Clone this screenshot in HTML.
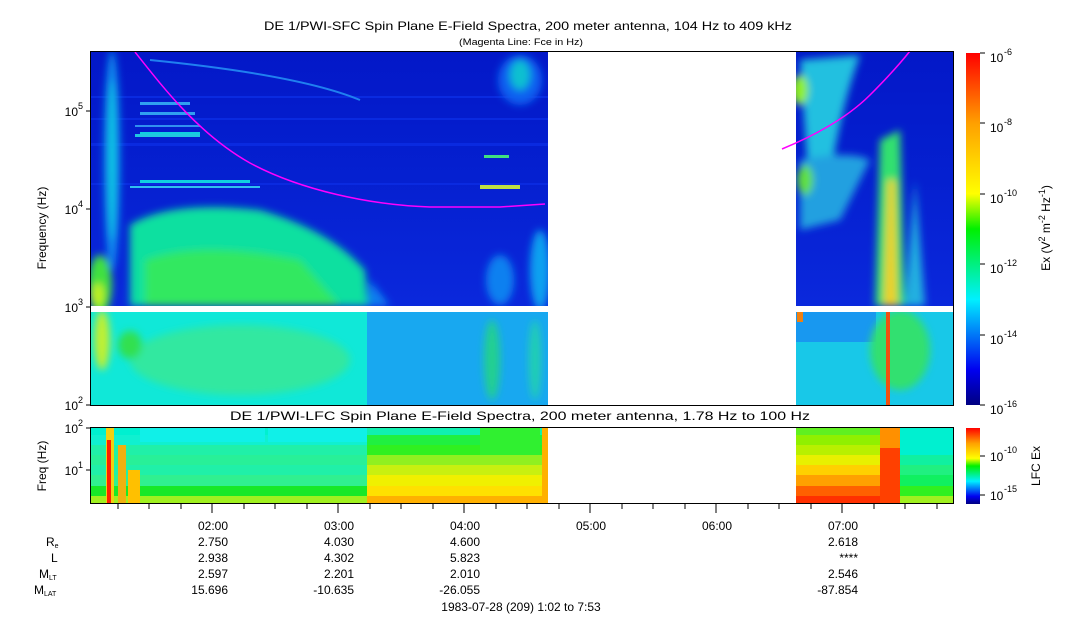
<!DOCTYPE html>
<html><head><meta charset="utf-8"><style>
body{margin:0;background:#fff;}
svg text{font-family:"Liberation Sans",sans-serif;fill:#000;}
</style></head><body>
<svg width="1083" height="620" viewBox="0 0 1083 620" xmlns="http://www.w3.org/2000/svg">
<defs>
<filter id="b4" x="-20%" y="-20%" width="140%" height="140%"><feGaussianBlur stdDeviation="4"/></filter>
<clipPath id="cU"><rect x="90" y="51" width="458" height="255"/></clipPath>
<clipPath id="cL"><rect x="90" y="312" width="458" height="93"/></clipPath>
<clipPath id="cRU"><rect x="796" y="51" width="157" height="255"/></clipPath>
<clipPath id="cRL"><rect x="796" y="312" width="157" height="93"/></clipPath>
<linearGradient id="cb" x1="0" y1="1" x2="0" y2="0">
<stop offset="0" stop-color="#000080"/><stop offset="0.1" stop-color="#0000f0"/><stop offset="0.3" stop-color="#00f0ff"/><stop offset="0.4" stop-color="#00f080"/><stop offset="0.5" stop-color="#00f000"/><stop offset="0.6" stop-color="#ffff00"/><stop offset="0.8" stop-color="#ffa000"/><stop offset="1" stop-color="#ff0000"/>
</linearGradient>
<linearGradient id="bg" x1="0" y1="0" x2="0" y2="1">
<stop offset="0" stop-color="#0318c8"/><stop offset="0.5" stop-color="#0520d0"/><stop offset="1" stop-color="#0a28dc"/>
</linearGradient>
</defs>

<text x="264" y="30" font-size="12" textLength="528" lengthAdjust="spacingAndGlyphs">DE 1/PWI-SFC  Spin Plane E-Field Spectra, 200 meter antenna, 104 Hz to 409 kHz</text>
<text x="459" y="45" font-size="9" textLength="124" lengthAdjust="spacingAndGlyphs">(Magenta Line: Fce in Hz)</text>
<text x="230" y="420" font-size="12" textLength="580" lengthAdjust="spacingAndGlyphs">DE 1/PWI-LFC  Spin Plane E-Field Spectra, 200 meter antenna, 1.78 Hz to 100 Hz</text>

<!-- LEFT UPPER -->
<g clip-path="url(#cU)">
<rect x="90" y="51" width="458" height="255" fill="url(#bg)"/>
<g fill="#0a2ae0"><rect x="90" y="96" width="458" height="2"/><rect x="90" y="118" width="458" height="2"/><rect x="90" y="143" width="458" height="3"/><rect x="90" y="183" width="458" height="2"/></g>
<g filter="url(#b4)">
<path d="M130 306 L130 225 Q170 200 260 210 Q330 230 365 270 L368 306 Z" fill="#10e0a0"/>
<path d="M145 306 L145 260 Q200 240 300 260 L340 306 Z" fill="#30e860"/>
<path d="M368 306 L370 280 L390 306 Z" fill="#1080f0"/>
<ellipse cx="100" cy="285" rx="12" ry="30" fill="#40e040"/>
<ellipse cx="98" cy="295" rx="6" ry="12" fill="#c0f020"/>
<ellipse cx="112" cy="160" rx="8" ry="110" fill="#1090f0"/>
<ellipse cx="112" cy="160" rx="4" ry="80" fill="#10c8e0"/>
<ellipse cx="500" cy="280" rx="14" ry="25" fill="#1080f0"/>
<ellipse cx="540" cy="270" rx="10" ry="40" fill="#10a0f0"/>
<ellipse cx="520" cy="80" rx="22" ry="25" fill="#1060f0"/>
<ellipse cx="520" cy="75" rx="10" ry="15" fill="#10c0d0"/>
</g>
<g fill="#10d0e0">
<rect x="140" y="180" width="110" height="3"/><rect x="130" y="186" width="130" height="2" fill="#30c0f0"/>
<rect x="140" y="132" width="60" height="3"/><rect x="140" y="112" width="55" height="3" fill="#30a0f0"/>
<rect x="140" y="102" width="50" height="3" fill="#30a0f0"/>
<rect x="135" y="125" width="65" height="2" fill="#3090f0"/>
<rect x="135" y="134" width="65" height="3" fill="#20c8e0"/>
<rect x="480" y="185" width="40" height="4" fill="#c0e040"/>
<rect x="484" y="155" width="25" height="3" fill="#40e080"/>
</g>
<path d="M150 60 Q300 75 360 100" stroke="#2080f0" stroke-width="2" fill="none"/>
</g>

<!-- LEFT LOWER -->
<g clip-path="url(#cL)">
<rect x="90" y="312" width="458" height="93" fill="#10e8d8"/>
<rect x="367" y="312" width="181" height="93" fill="#18a8f0"/>
<g filter="url(#b4)">
<ellipse cx="240" cy="360" rx="110" ry="35" fill="#30e8a0"/>
<ellipse cx="102" cy="340" rx="8" ry="30" fill="#c0f030"/>
<ellipse cx="130" cy="345" rx="12" ry="14" fill="#30e050"/>
<ellipse cx="492" cy="360" rx="8" ry="40" fill="#20d090"/>
<ellipse cx="535" cy="360" rx="6" ry="40" fill="#20d0b0"/>
</g>
</g>

<!-- RIGHT UPPER -->
<g clip-path="url(#cRU)">
<rect x="796" y="51" width="157" height="255" fill="url(#bg)"/>
<g filter="url(#b4)">
<path d="M800 60 L860 55 Q840 110 830 180 L810 200 Z" fill="#20c0e0"/>
<path d="M800 160 Q850 150 870 160 L840 220 L800 230 Z" fill="#20a0e0"/>
<path d="M875 306 L880 140 L900 130 L905 306 Z" fill="#30e070"/>
<path d="M884 306 L888 180 L895 180 L897 306 Z" fill="#f0d020"/>
<path d="M905 306 L915 180 L925 306 Z" fill="#20b0e0"/>
<ellipse cx="800" cy="90" rx="8" ry="15" fill="#90f020"/>
<ellipse cx="805" cy="180" rx="8" ry="15" fill="#60e040"/>
</g>
</g>
<g clip-path="url(#cRL)">
<rect x="796" y="312" width="157" height="93" fill="#18c8e8"/>
<rect x="796" y="312" width="80" height="30" fill="#1898f0"/>
<g filter="url(#b4)">
<ellipse cx="900" cy="350" rx="30" ry="40" fill="#30e070"/>
</g>
<rect x="886" y="312" width="4" height="93" fill="#f05010"/>
<rect x="797" y="312" width="6" height="10" fill="#f08010"/>
</g>

<path d="M135 52 C165 90 200 135 250 163 C300 190 370 205 430 207 L500 207 L545 204" stroke="#ff00ff" stroke-width="1.5" fill="none"/>
<path d="M782 149 Q840 125 870 95 Q895 70 910 51" stroke="#ff00ff" stroke-width="1.5" fill="none"/>

<rect x="90" y="306" width="864" height="6" fill="#fff"/>
<rect x="90.5" y="51.5" width="863" height="354" fill="none" stroke="#000" stroke-width="1"/>

<g stroke="#000" stroke-width="1">
<line x1="86" y1="405" x2="90" y2="405"/><line x1="86" y1="307" x2="90" y2="307"/><line x1="86" y1="209" x2="90" y2="209"/><line x1="86" y1="111" x2="90" y2="111"/>
</g>
<g font-size="12" text-anchor="end">
<text x="78" y="410">10</text><text x="78" y="312">10</text><text x="78" y="214">10</text><text x="78" y="116">10</text>
</g>
<g font-size="9"><text x="78" y="403">2</text><text x="78" y="305">3</text><text x="78" y="207">4</text><text x="78" y="109">5</text></g>
<text transform="translate(46,228) rotate(-90)" font-size="12" text-anchor="middle">Frequency (Hz)</text>

<rect x="966" y="53" width="14" height="352" fill="url(#cb)"/>
<g stroke="#000"><line x1="980" y1="53" x2="985" y2="53"/><line x1="980" y1="123" x2="985" y2="123"/><line x1="980" y1="194" x2="985" y2="194"/><line x1="980" y1="264" x2="985" y2="264"/><line x1="980" y1="335" x2="985" y2="335"/><line x1="980" y1="405" x2="985" y2="405"/></g>
<g font-size="12"><text x="990" y="62">10</text><text x="990" y="132">10</text><text x="990" y="203">10</text><text x="990" y="273">10</text><text x="990" y="344">10</text><text x="990" y="414">10</text></g>
<g font-size="9"><text x="1004" y="55">-6</text><text x="1004" y="125">-8</text><text x="1004" y="196">-10</text><text x="1004" y="266">-12</text><text x="1004" y="337">-14</text><text x="1004" y="407">-16</text></g>
<text transform="translate(1050,228) rotate(-90)" font-size="12" text-anchor="middle">Ex (V<tspan font-size="9" dy="-5">2</tspan><tspan dy="5"> m</tspan><tspan font-size="9" dy="-5">-2</tspan><tspan dy="5"> Hz</tspan><tspan font-size="9" dy="-5">-1</tspan><tspan dy="5">)</tspan></text>

<!-- LOWER PANEL -->
<g>
<rect x="90" y="428" width="277" height="7" fill="#00f0d0"/>
<rect x="90" y="435" width="277" height="10" fill="#10f0d0"/>
<rect x="90" y="445" width="277" height="10" fill="#20f0a8"/>
<rect x="90" y="455" width="277" height="10" fill="#28f098"/>
<rect x="90" y="465" width="277" height="10" fill="#20f0a8"/>
<rect x="90" y="475" width="277" height="11" fill="#30f090"/>
<rect x="90" y="486" width="277" height="10" fill="#18e828"/>
<rect x="90" y="496" width="277" height="8" fill="#a0f020"/>
<rect x="140" y="428" width="125" height="14" fill="#10f0e8"/>
<rect x="268" y="428" width="100" height="14" fill="#10f0e8"/>
<rect x="106" y="428" width="8" height="76" fill="#f0d010"/>
<rect x="107" y="440" width="4" height="64" fill="#ff2000"/>
<rect x="118" y="445" width="8" height="59" fill="#f0b010"/>
<rect x="128" y="470" width="12" height="34" fill="#ffc000"/>
<rect x="367" y="428" width="181" height="7" fill="#10f0b0"/>
<rect x="367" y="435" width="181" height="10" fill="#20f040"/>
<rect x="367" y="445" width="181" height="10" fill="#30f020"/>
<rect x="367" y="455" width="181" height="10" fill="#90f020"/>
<rect x="367" y="465" width="181" height="10" fill="#c8f010"/>
<rect x="367" y="475" width="181" height="11" fill="#f0f000"/>
<rect x="367" y="486" width="181" height="10" fill="#ffe000"/>
<rect x="367" y="496" width="181" height="8" fill="#ffb000"/>
<rect x="480" y="428" width="60" height="27" fill="#30f030"/>
<rect x="542" y="428" width="6" height="76" fill="#ffb000"/>
<rect x="796" y="428" width="84" height="7" fill="#60f020"/>
<rect x="796" y="435" width="84" height="10" fill="#90f000"/>
<rect x="796" y="445" width="84" height="10" fill="#b8f000"/>
<rect x="796" y="455" width="84" height="10" fill="#e8f000"/>
<rect x="796" y="465" width="84" height="10" fill="#ffd000"/>
<rect x="796" y="475" width="84" height="11" fill="#ffa000"/>
<rect x="796" y="486" width="84" height="10" fill="#ff6000"/>
<rect x="796" y="496" width="84" height="8" fill="#ff3000"/>
<rect x="880" y="428" width="20" height="76" fill="#ff4000"/>
<rect x="880" y="428" width="20" height="20" fill="#ff9000"/>
<rect x="900" y="428" width="53" height="27" fill="#00f0d0"/>
<rect x="900" y="455" width="53" height="10" fill="#10f0a0"/>
<rect x="900" y="465" width="53" height="10" fill="#20f080"/>
<rect x="900" y="475" width="53" height="11" fill="#10f060"/>
<rect x="900" y="486" width="53" height="10" fill="#30f020"/>
<rect x="900" y="496" width="53" height="8" fill="#a0f020"/>
</g>
<rect x="90.5" y="427.5" width="863" height="76" fill="none" stroke="#000"/>
<g stroke="#000"><line x1="86" y1="428" x2="90" y2="428"/><line x1="86" y1="470" x2="90" y2="470"/></g>
<g font-size="12" text-anchor="end"><text x="78" y="433">10</text><text x="78" y="475">10</text></g>
<g font-size="9"><text x="78" y="426">2</text><text x="78" y="468">1</text></g>
<text transform="translate(46,466) rotate(-90)" font-size="12" text-anchor="middle">Freq (Hz)</text>

<rect x="966" y="428" width="14" height="76" fill="url(#cb)"/>
<g stroke="#000"><line x1="980" y1="456" x2="985" y2="456"/><line x1="980" y1="495" x2="985" y2="495"/></g>
<g font-size="12"><text x="990" y="461">10</text><text x="990" y="500">10</text></g>
<g font-size="9"><text x="1004" y="453">-10</text><text x="1004" y="492">-15</text></g>
<text transform="translate(1040,466) rotate(-90)" font-size="12" text-anchor="middle">LFC Ex</text>

<g stroke="#000">
<line x1="212" y1="504" x2="212" y2="513"/><line x1="338" y1="504" x2="338" y2="513"/><line x1="464" y1="504" x2="464" y2="513"/><line x1="590" y1="504" x2="590" y2="513"/><line x1="716" y1="504" x2="716" y2="513"/><line x1="842" y1="504" x2="842" y2="513"/>
<line x1="118" y1="504" x2="118" y2="509"/><line x1="149" y1="504" x2="149" y2="509"/><line x1="181" y1="504" x2="181" y2="509"/><line x1="244" y1="504" x2="244" y2="509"/><line x1="275" y1="504" x2="275" y2="509"/><line x1="307" y1="504" x2="307" y2="509"/><line x1="370" y1="504" x2="370" y2="509"/><line x1="401" y1="504" x2="401" y2="509"/><line x1="433" y1="504" x2="433" y2="509"/><line x1="496" y1="504" x2="496" y2="509"/><line x1="527" y1="504" x2="527" y2="509"/><line x1="559" y1="504" x2="559" y2="509"/><line x1="622" y1="504" x2="622" y2="509"/><line x1="653" y1="504" x2="653" y2="509"/><line x1="685" y1="504" x2="685" y2="509"/><line x1="748" y1="504" x2="748" y2="509"/><line x1="779" y1="504" x2="779" y2="509"/><line x1="811" y1="504" x2="811" y2="509"/><line x1="874" y1="504" x2="874" y2="509"/><line x1="905" y1="504" x2="905" y2="509"/><line x1="937" y1="504" x2="937" y2="509"/>
</g>
<g font-size="12" text-anchor="end">
<text x="228" y="530">02:00</text><text x="354" y="530">03:00</text><text x="480" y="530">04:00</text><text x="606" y="530">05:00</text><text x="732" y="530">06:00</text><text x="858" y="530">07:00</text>
<text x="228" y="546">2.750</text><text x="354" y="546">4.030</text><text x="480" y="546">4.600</text><text x="858" y="546">2.618</text>
<text x="228" y="562">2.938</text><text x="354" y="562">4.302</text><text x="480" y="562">5.823</text><text x="858" y="562">****</text>
<text x="228" y="578">2.597</text><text x="354" y="578">2.201</text><text x="480" y="578">2.010</text><text x="858" y="578">2.546</text>
<text x="228" y="594">15.696</text><text x="354" y="594">-10.635</text><text x="480" y="594">-26.055</text><text x="858" y="594">-87.854</text>
</g>
<g font-size="12">
<text x="46" y="546">R<tspan font-size="7" dy="2">e</tspan></text>
<text x="51" y="562">L</text>
<text x="39" y="578">M<tspan font-size="7" dy="2">LT</tspan></text>
<text x="34" y="594">M<tspan font-size="7" dy="2">LAT</tspan></text>
</g>
<text x="521" y="611" font-size="12" text-anchor="middle">1983-07-28 (209) 1:02 to 7:53</text>
</svg>
</body></html>
